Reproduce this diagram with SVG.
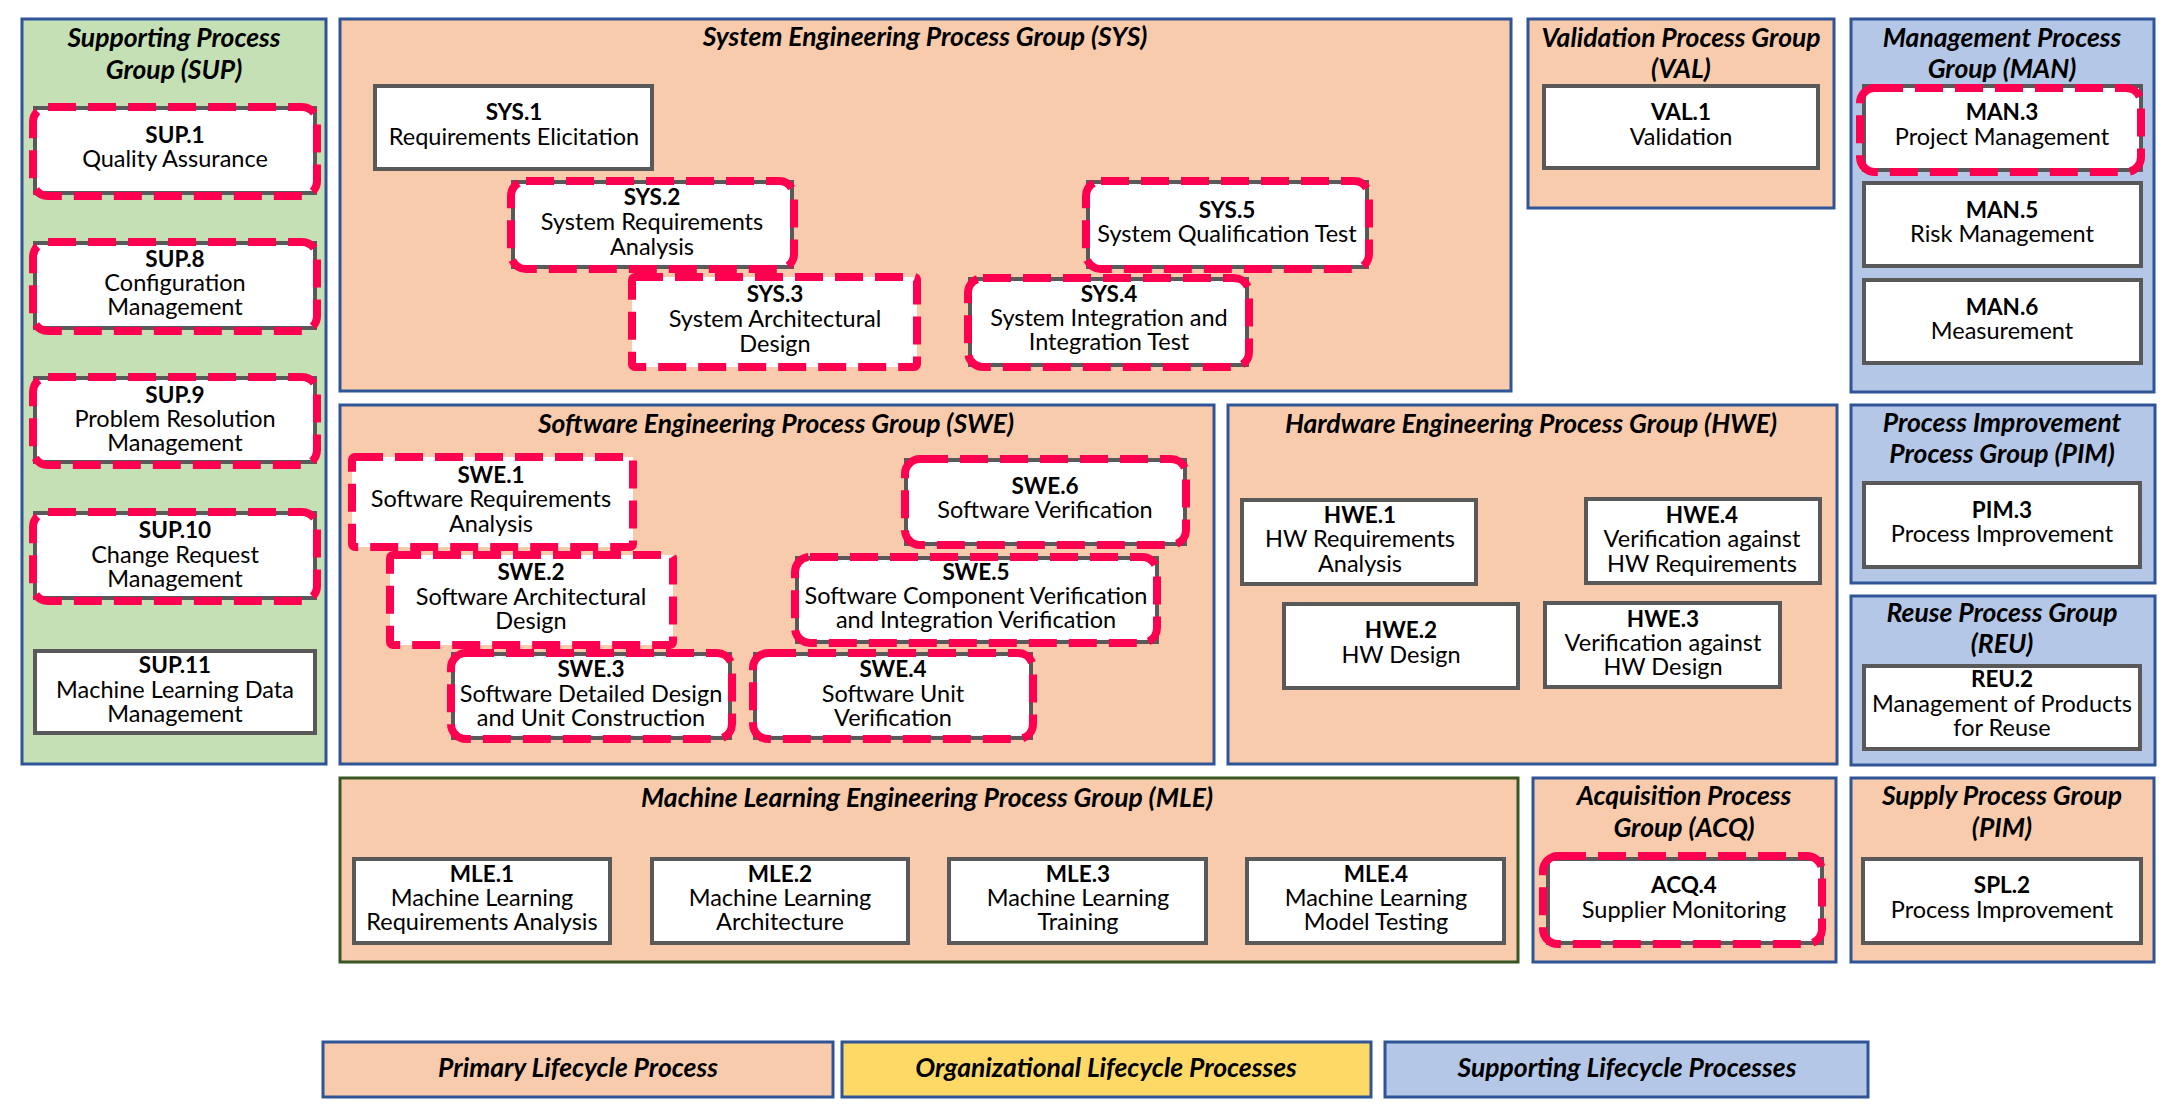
<svg xmlns="http://www.w3.org/2000/svg" width="2175" height="1117" viewBox="0 0 2175 1117">
<style>
.gp{fill:#F8CBAD;stroke:#2F5597;stroke-width:3}
.gg{fill:#C5E0B4;stroke:#2F5597;stroke-width:3}
.gb{fill:#B4C7E7;stroke:#2F5597;stroke-width:3}
.gm{fill:#F8CBAD;stroke:#385723;stroke-width:3}
.ly{fill:#FFD966;stroke:#2F5597;stroke-width:3}
.box{fill:#FFFFFF;stroke:#595959;stroke-width:4}
.wb{fill:#FFFFFF;stroke:none}
.hl{fill:none;stroke:#FF0050;stroke-width:8;stroke-dasharray:28 12}
text{font-family:Lato,"Open Sans","Liberation Sans",sans-serif;fill:#000;text-anchor:middle}
.t{font-size:26.5px;font-weight:bold;font-style:italic}
.i{font-size:22.5px;font-weight:bold}
.l{font-size:23.5px}
</style>
<rect width="2175" height="1117" fill="#FFFFFF"/>

<!-- Groups (containers) -->
<g id="grp-SUP">
<rect class="gg" x="22" y="19" width="304" height="745"/>
<text class="t" x="174" y="47">Supporting Process</text>
<text class="t" x="174" y="79">Group (SUP)</text>
</g>
<g id="grp-SYS">
<rect class="gp" x="340" y="19" width="1171" height="372"/>
<text class="t" x="925" y="46">System Engineering Process Group (SYS)</text>
</g>
<g id="grp-VAL">
<rect class="gp" x="1528" y="19" width="306" height="189"/>
<text class="t" x="1681" y="47">Validation Process Group</text>
<text class="t" x="1681" y="78">(VAL)</text>
</g>
<g id="grp-MAN">
<rect class="gb" x="1851" y="19" width="303" height="373"/>
<text class="t" x="2002" y="47">Management Process</text>
<text class="t" x="2002" y="78">Group (MAN)</text>
</g>
<g id="grp-SWE">
<rect class="gp" x="340" y="405" width="874" height="359"/>
<text class="t" x="776" y="433">Software Engineering  Process Group (SWE)</text>
</g>
<g id="grp-HWE">
<rect class="gp" x="1228" y="405" width="609" height="359"/>
<text class="t" x="1531" y="433">Hardware Engineering Process Group (HWE)</text>
</g>
<g id="grp-PIM">
<rect class="gb" x="1851" y="405" width="304" height="178"/>
<text class="t" x="2002" y="432">Process Improvement</text>
<text class="t" x="2002" y="463">Process Group (PIM)</text>
</g>
<g id="grp-REU">
<rect class="gb" x="1851" y="596" width="304" height="169"/>
<text class="t" x="2002" y="622">Reuse Process Group</text>
<text class="t" x="2002" y="653">(REU)</text>
</g>
<g id="grp-MLE">
<rect class="gm" x="340" y="778" width="1178" height="184"/>
<text class="t" x="927" y="807">Machine Learning Engineering Process Group (MLE)</text>
</g>
<g id="grp-ACQ">
<rect class="gp" x="1533" y="778" width="303" height="184"/>
<text class="t" x="1684" y="805">Acquisition Process</text>
<text class="t" x="1684" y="837">Group (ACQ)</text>
</g>
<g id="grp-SPL">
<rect class="gp" x="1851" y="778" width="303" height="184"/>
<text class="t" x="2002" y="805">Supply Process Group</text>
<text class="t" x="2002" y="837">(PIM)</text>
</g>

<!-- SUP nodes -->
<g id="SUP1">
<rect class="box" x="35" y="108" width="280" height="85"/>
<rect class="hl" x="33" y="107" width="284" height="89" rx="15"/>
<text class="i" x="175" y="143">SUP.1</text>
<text class="l" x="175" y="167">Quality Assurance</text>
</g>
<g id="SUP8">
<rect class="box" x="35" y="243" width="280" height="85"/>
<rect class="hl" x="33" y="242" width="284" height="89" rx="15"/>
<text class="i" x="175" y="267">SUP.8</text>
<text class="l" x="175" y="291">Configuration</text>
<text class="l" x="175" y="315">Management</text>
</g>
<g id="SUP9">
<rect class="box" x="35" y="378" width="280" height="84"/>
<rect class="hl" x="33" y="377" width="284" height="88" rx="15"/>
<text class="i" x="175" y="403">SUP.9</text>
<text class="l" x="175" y="427">Problem Resolution</text>
<text class="l" x="175" y="451">Management</text>
</g>
<g id="SUP10">
<rect class="box" x="35" y="513" width="280" height="85"/>
<rect class="hl" x="33" y="512" width="284" height="89" rx="15"/>
<text class="i" x="175" y="538">SUP.10</text>
<text class="l" x="175" y="563">Change Request</text>
<text class="l" x="175" y="587">Management</text>
</g>
<g id="SUP11">
<rect class="box" x="35" y="651" width="280" height="82"/>
<text class="i" x="175" y="673">SUP.11</text>
<text class="l" x="175" y="698">Machine Learning Data</text>
<text class="l" x="175" y="722">Management</text>
</g>

<!-- SYS nodes -->
<g id="SYS1">
<rect class="box" x="375" y="86" width="277" height="83"/>
<text class="i" x="514" y="120">SYS.1</text>
<text class="l" x="514" y="145">Requirements Elicitation</text>
</g>
<g id="SYS2">
<rect class="box" x="513" y="182" width="279" height="85"/>
<rect class="hl" x="511" y="181" width="283" height="88" rx="15"/>
<text class="i" x="652" y="205">SYS.2</text>
<text class="l" x="652" y="230">System Requirements</text>
<text class="l" x="652" y="255">Analysis</text>
</g>
<g id="SYS3">
<rect class="wb" x="632" y="277" width="285" height="90"/>
<rect class="hl" x="632" y="277" width="285" height="90" rx="3"/>
<text class="i" x="775" y="302">SYS.3</text>
<text class="l" x="775" y="327">System Architectural</text>
<text class="l" x="775" y="352">Design</text>
</g>
<g id="SYS5">
<rect class="box" x="1088" y="182" width="279" height="85"/>
<rect class="hl" x="1086" y="181" width="283" height="88" rx="15"/>
<text class="i" x="1227" y="218">SYS.5</text>
<text class="l" x="1227" y="242">System Qualification Test</text>
</g>
<g id="SYS4">
<rect class="box" x="970" y="279" width="277" height="86"/>
<rect class="hl" x="968" y="278" width="281" height="89" rx="15"/>
<text class="i" x="1109" y="302">SYS.4</text>
<text class="l" x="1109" y="326">System Integration and</text>
<text class="l" x="1109" y="350">Integration Test</text>
</g>

<!-- VAL / MAN nodes -->
<g id="VAL1">
<rect class="box" x="1544" y="86" width="274" height="82"/>
<text class="i" x="1681" y="120">VAL.1</text>
<text class="l" x="1681" y="145">Validation</text>
</g>
<g id="MAN3">
<rect class="box" x="1864" y="86" width="277" height="84"/>
<rect class="hl" x="1860" y="88" width="281" height="84" rx="15"/>
<text class="i" x="2002" y="120">MAN.3</text>
<text class="l" x="2002" y="145">Project Management</text>
</g>
<g id="MAN5">
<rect class="box" x="1864" y="183" width="277" height="83"/>
<text class="i" x="2002" y="218">MAN.5</text>
<text class="l" x="2002" y="242">Risk Management</text>
</g>
<g id="MAN6">
<rect class="box" x="1864" y="280" width="277" height="83"/>
<text class="i" x="2002" y="315">MAN.6</text>
<text class="l" x="2002" y="339">Measurement</text>
</g>

<!-- SWE nodes -->
<g id="SWE1">
<rect class="wb" x="352" y="457" width="281" height="90"/>
<rect class="hl" x="352" y="457" width="281" height="90" rx="3"/>
<text class="i" x="491" y="483">SWE.1</text>
<text class="l" x="491" y="507">Software Requirements</text>
<text class="l" x="491" y="532">Analysis</text>
</g>
<g id="SWE3">
<rect class="box" x="453" y="654" width="277" height="84"/>
<rect class="hl" x="451" y="653" width="281" height="86" rx="15"/>
<text class="i" x="591" y="677">SWE.3</text>
<text class="l" x="591" y="702">Software Detailed Design</text>
<text class="l" x="591" y="726">and Unit Construction</text>
</g>
<g id="SWE2">
<rect class="wb" x="390" y="555" width="283" height="90"/>
<rect class="hl" x="390" y="555" width="283" height="90" rx="3"/>
<text class="i" x="531" y="580">SWE.2</text>
<text class="l" x="531" y="605">Software Architectural</text>
<text class="l" x="531" y="629">Design</text>
</g>
<g id="SWE4">
<rect class="box" x="755" y="654" width="276" height="84"/>
<rect class="hl" x="753" y="653" width="280" height="86" rx="15"/>
<text class="i" x="893" y="677">SWE.4</text>
<text class="l" x="893" y="702">Software Unit</text>
<text class="l" x="893" y="726">Verification</text>
</g>
<g id="SWE5">
<rect class="box" x="797" y="558" width="360" height="84"/>
<rect class="hl" x="795" y="557" width="362" height="86" rx="15"/>
<text class="i" x="976" y="580">SWE.5</text>
<text class="l" x="976" y="604">Software Component Verification</text>
<text class="l" x="976" y="628">and Integration Verification</text>
</g>
<g id="SWE6">
<rect class="box" x="906" y="460" width="279" height="84"/>
<rect class="hl" x="905" y="459" width="281" height="86" rx="15"/>
<text class="i" x="1045" y="494">SWE.6</text>
<text class="l" x="1045" y="518">Software Verification</text>
</g>

<!-- HWE nodes -->
<g id="HWE1">
<rect class="box" x="1242" y="500" width="234" height="84"/>
<text class="i" x="1360" y="523">HWE.1</text>
<text class="l" x="1360" y="547">HW Requirements</text>
<text class="l" x="1360" y="572">Analysis</text>
</g>
<g id="HWE4">
<rect class="box" x="1586" y="499" width="234" height="84"/>
<text class="i" x="1702" y="523">HWE.4</text>
<text class="l" x="1702" y="547">Verification against</text>
<text class="l" x="1702" y="572">HW Requirements</text>
</g>
<g id="HWE2">
<rect class="box" x="1284" y="604" width="234" height="84"/>
<text class="i" x="1401" y="638">HWE.2</text>
<text class="l" x="1401" y="663">HW Design</text>
</g>
<g id="HWE3">
<rect class="box" x="1545" y="603" width="235" height="84"/>
<text class="i" x="1663" y="627">HWE.3</text>
<text class="l" x="1663" y="651">Verification against</text>
<text class="l" x="1663" y="675">HW Design</text>
</g>

<!-- PIM / REU nodes -->
<g id="PIM3">
<rect class="box" x="1864" y="483" width="276" height="84"/>
<text class="i" x="2002" y="518">PIM.3</text>
<text class="l" x="2002" y="542">Process Improvement</text>
</g>
<g id="REU2">
<rect class="box" x="1864" y="666" width="276" height="83"/>
<text class="i" x="2002" y="687">REU.2</text>
<text class="l" x="2002" y="712">Management of Products</text>
<text class="l" x="2002" y="736">for Reuse</text>
</g>

<!-- MLE nodes -->
<g id="MLE1">
<rect class="box" x="354" y="859" width="256" height="84"/>
<text class="i" x="482" y="882">MLE.1</text>
<text class="l" x="482" y="906">Machine Learning</text>
<text class="l" x="482" y="930">Requirements Analysis</text>
</g>
<g id="MLE2">
<rect class="box" x="652" y="859" width="256" height="84"/>
<text class="i" x="780" y="882">MLE.2</text>
<text class="l" x="780" y="906">Machine Learning</text>
<text class="l" x="780" y="930">Architecture</text>
</g>
<g id="MLE3">
<rect class="box" x="949" y="859" width="257" height="84"/>
<text class="i" x="1078" y="882">MLE.3</text>
<text class="l" x="1078" y="906">Machine Learning</text>
<text class="l" x="1078" y="930">Training</text>
</g>
<g id="MLE4">
<rect class="box" x="1247" y="859" width="257" height="84"/>
<text class="i" x="1376" y="882">MLE.4</text>
<text class="l" x="1376" y="906">Machine Learning</text>
<text class="l" x="1376" y="930">Model Testing</text>
</g>

<!-- ACQ / SPL nodes -->
<g id="ACQ4">
<rect class="box" x="1548" y="859" width="274" height="84"/>
<rect class="hl" x="1543" y="856" width="279" height="88" rx="15"/>
<text class="i" x="1684" y="893">ACQ.4</text>
<text class="l" x="1684" y="918">Supplier Monitoring</text>
</g>
<g id="SPL2">
<rect class="box" x="1863" y="859" width="278" height="84"/>
<text class="i" x="2002" y="893">SPL.2</text>
<text class="l" x="2002" y="918">Process Improvement</text>
</g>

<!-- Legend -->
<g id="legend-primary">
<rect class="gp" x="323" y="1042" width="510" height="55"/>
<text class="t" x="578" y="1077">Primary Lifecycle Process</text>
</g>
<g id="legend-organizational">
<rect class="ly" x="842" y="1042" width="529" height="55"/>
<text class="t" x="1106" y="1077">Organizational Lifecycle Processes</text>
</g>
<g id="legend-supporting">
<rect class="gb" x="1385" y="1042" width="483" height="55"/>
<text class="t" x="1627" y="1077">Supporting Lifecycle Processes</text>
</g>

<g id="connectors"></g>
</svg>
